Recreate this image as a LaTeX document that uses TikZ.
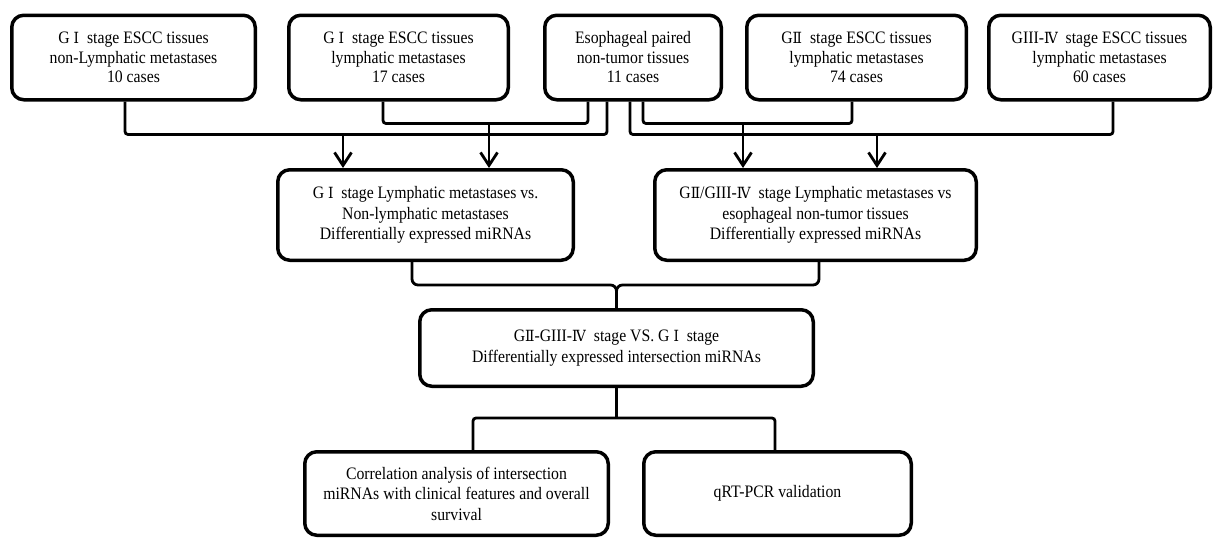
\documentclass[tikz,border=0pt]{standalone}
\usepackage{fontspec}
\setmainfont{Liberation Serif}[FakeStretch=0.9]
\newfontfamily\rnfont{DejaVu Serif}[Scale=0.88,FakeStretch=0.9]
\newcommand{\rn}[1]{{\rnfont #1}}
\usetikzlibrary{arrows.meta}
\tikzset{
  box/.style={draw,line width=3.5pt,rounded corners=12pt,align=center,inner sep=2pt},
  topbox/.style={box,minimum height=84.5pt,font=\fontsize{17.5}{19.5}\selectfont},
  midbox/.style={box,font=\fontsize{17.5}{20.5}\selectfont},
  link/.style={line width=2.8pt,rounded corners=3pt},
  arr/.style={line width=2.8pt,-{Straight Barb[length=13pt,width=17pt]}}
}
\begin{document}
\begin{tikzpicture}[x=1pt,y=-1pt]
\useasboundingbox (0,0) rectangle (1215,538);
% first row: the five sample groups
\node[topbox,minimum width=243.5pt] (b1) at (133.5,57.5) {G~\rn{Ⅰ}~~stage ESCC tissues\\non-Lymphatic metastases\\10 cases};
\node[topbox,minimum width=219.5pt] (b2) at (398.5,57.5) {G~\rn{Ⅰ}~~stage ESCC tissues\\lymphatic metastases\\17 cases};
\node[topbox,minimum width=176.5pt] (b3) at (633,57.5) {Esophageal paired\\non-tumor tissues\\11 cases};
\node[topbox,minimum width=219.5pt] (b4) at (856.5,57.5) {G\rn{Ⅱ}~~stage ESCC tissues\\lymphatic metastases\\74 cases};
\node[topbox,minimum width=221.5pt] (b5) at (1099.5,57.5) {GIII-\rn{Ⅳ}~~stage ESCC tissues\\lymphatic metastases\\60 cases};
% second row: the two comparisons
\node[midbox,minimum width=295.5pt,minimum height=90.5pt] (m1) at (425.5,215) {G~\rn{Ⅰ}~~stage Lymphatic metastases vs.\\Non-lymphatic metastases\\Differentially expressed miRNAs};
\node[midbox,minimum width=321.5pt,minimum height=90.5pt] (m2) at (815.5,215) {G\rn{Ⅱ}/GIII-\rn{Ⅳ}~~stage Lymphatic metastases vs\\esophageal non-tumor tissues\\Differentially expressed miRNAs};
% intersection and follow-up
\node[midbox,minimum width=393.5pt,minimum height=76.5pt] (c) at (616.5,348) {G\rn{Ⅱ}-GIII-\rn{Ⅳ}~~stage VS. G~\rn{Ⅰ}~~stage\\Differentially expressed intersection miRNAs};
\node[midbox,minimum width=303.5pt,minimum height=83.5pt] (d1) at (456.5,493.5) {Correlation analysis of intersection\\miRNAs with clinical features and overall\\survival};
\node[midbox,minimum width=267.5pt,minimum height=83.5pt] (d2) at (777.5,493.5) {qRT-PCR validation};
% buses from the first row
\draw[link] ([xshift=-8.5pt]b1.south) -- ++(0,-33pt) -| ([xshift=-26pt]b3.south);
\draw[link] ([xshift=-15.5pt]b2.south) -- ++(0,-22pt) -| ([xshift=-45pt]b3.south);
\draw[link] ([xshift=-3pt]b3.south) -- ++(0,-33pt) -| ([xshift=13.5pt]b5.south);
\draw[link] ([xshift=10pt]b3.south) -- ++(0,-22pt) -| ([xshift=-4.5pt]b4.south);
\draw[arr] ([xshift=-82.5pt,yshift=34pt]m1.north) -- ([xshift=-82.5pt]m1.north);
\draw[arr] ([xshift=63.5pt,yshift=45pt]m1.north) -- ([xshift=63.5pt]m1.north);
\draw[arr] ([xshift=-72.5pt,yshift=45pt]m2.north) -- ([xshift=-72.5pt]m2.north);
\draw[arr] ([xshift=61.5pt,yshift=34pt]m2.north) -- ([xshift=61.5pt]m2.north);
% join into the intersection
\draw[link,rounded corners=6pt] ([xshift=-13.5pt]m1.south) -- ++(0,-23pt) -| (c.north);
\draw[link,rounded corners=6pt] ([xshift=3.5pt]m2.south) -- ++(0,-23pt) -| (c.north);
% split to the last row
\draw[link] (c.south) -- ++(0,-30pt);
\draw[link] ([xshift=16.5pt]d1.north) -- ++(0,32pt) -| ([xshift=-2.5pt]d2.north);
\end{tikzpicture}
\end{document}
